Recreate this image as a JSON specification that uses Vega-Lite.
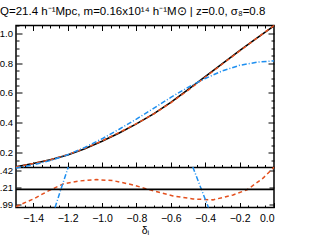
{
  "$schema": "https://vega.github.io/schema/vega-lite/v6.json",
  "autosize": {"type": "none"},
  "padding": {"left": 16, "top": 25.5, "right": 39, "bottom": 40.5},
  "width": 258,
  "height": 182,
  "background": "white",
  "title": {"text": "Q=21.4 h⁻¹Mpc, m=0.16x10¹⁴ h⁻¹M⊙ | z=0.0, σ₈=0.8", "anchor": "start", "frame": "group", "dx": -16, "offset": 5, "fontSize": 11.5, "font": "Liberation Sans", "fontWeight": "normal", "color": "black"},
  "config": {
    "view": {"stroke": "black", "strokeWidth": 1.5},
    "axis": {"labelFont": "Liberation Sans", "labelFontSize": 10.5, "labelColor": "black", "tickColor": "black", "domain": false, "grid": false, "titleFont": "Liberation Sans", "titleFontSize": 10.5, "titleFontWeight": "normal", "titleColor": "black"}
  },
  "datasets": {
    "black": [
      {"x": -1.5, "y": 0.105}, {"x": -1.4, "y": 0.127}, {"x": -1.3, "y": 0.152}, {"x": -1.2, "y": 0.185},
      {"x": -1.1, "y": 0.226}, {"x": -1.0, "y": 0.276}, {"x": -0.9, "y": 0.332}, {"x": -0.8, "y": 0.393},
      {"x": -0.7, "y": 0.46}, {"x": -0.6, "y": 0.537}, {"x": -0.5, "y": 0.622}, {"x": -0.4, "y": 0.71},
      {"x": -0.3, "y": 0.797}, {"x": -0.2, "y": 0.883}, {"x": -0.1, "y": 0.967}, {"x": 0.0, "y": 1.05}
    ],
    "red": [
      {"x": -1.5, "y": 0.104}, {"x": -1.4, "y": 0.127}, {"x": -1.3, "y": 0.153}, {"x": -1.2, "y": 0.187},
      {"x": -1.1, "y": 0.229}, {"x": -1.0, "y": 0.279}, {"x": -0.9, "y": 0.335}, {"x": -0.8, "y": 0.394},
      {"x": -0.7, "y": 0.459}, {"x": -0.6, "y": 0.534}, {"x": -0.5, "y": 0.618}, {"x": -0.4, "y": 0.706},
      {"x": -0.3, "y": 0.794}, {"x": -0.2, "y": 0.881}, {"x": -0.1, "y": 0.967}, {"x": 0.0, "y": 1.052}
    ],
    "blue": [
      {"x": -1.5, "y": 0.098}, {"x": -1.4, "y": 0.118}, {"x": -1.3, "y": 0.147}, {"x": -1.2, "y": 0.186},
      {"x": -1.1, "y": 0.235}, {"x": -1.0, "y": 0.293}, {"x": -0.9, "y": 0.357}, {"x": -0.8, "y": 0.425},
      {"x": -0.7, "y": 0.497}, {"x": -0.6, "y": 0.57}, {"x": -0.5, "y": 0.638}, {"x": -0.4, "y": 0.697},
      {"x": -0.3, "y": 0.748}, {"x": -0.2, "y": 0.785}, {"x": -0.1, "y": 0.806}, {"x": 0.0, "y": 0.815}
    ],
    "redr": [
      {"x": -1.5, "r": 0.963}, {"x": -1.39, "r": 1.07}, {"x": -1.32, "r": 1.154}, {"x": -1.225, "r": 1.252},
      {"x": -1.128, "r": 1.29}, {"x": -1.031, "r": 1.307}, {"x": -0.936, "r": 1.294}, {"x": -0.82, "r": 1.239},
      {"x": -0.721, "r": 1.176}, {"x": -0.587, "r": 1.099}, {"x": -0.471, "r": 1.061}, {"x": -0.355, "r": 1.049},
      {"x": -0.238, "r": 1.112}, {"x": -0.157, "r": 1.176}, {"x": -0.064, "r": 1.325}, {"x": 0.0, "r": 1.464}
    ],
    "bluer": [
      {"seg": "a", "x": -1.273, "r": 0.952}, {"seg": "a", "x": -1.235, "r": 1.21}, {"seg": "a", "x": -1.196, "r": 1.467},
      {"seg": "b", "x": -0.472, "r": 1.467}, {"seg": "b", "x": -0.427, "r": 1.21}, {"seg": "b", "x": -0.381, "r": 0.952}
    ],
    "ref": [{"r": 1.182}]
  },
  "resolve": {"scale": {"x": "independent", "y": "independent"}, "axis": {"x": "independent", "y": "independent"}},
  "layer": [
    {
      "data": {"name": "black"},
      "mark": {"type": "line", "color": "black", "strokeWidth": 1.6},
      "encoding": {
        "x": {"field": "x", "type": "quantitative", "scale": {"domain": [-1.5, 0], "nice": false, "zero": false},
              "axis": {"orient": "top", "values": [-1.4, -1.2, -1.0, -0.8, -0.6, -0.4, -0.2], "labels": false, "tickSize": -5, "title": null}},
        "y": {"field": "y", "type": "quantitative", "scale": {"domain": [0.104, 1.052], "range": [141.5, 0], "nice": false, "zero": false},
              "axis": {"orient": "left", "values": [0.2, 0.4, 0.6, 0.8, 1.0], "format": ".1f", "tickSize": -6, "labelPadding": 9.5, "labelFontSize": 9.5, "title": null}}
      }
    },
    {
      "data": {"name": "red"},
      "mark": {"type": "line", "color": "#e4501e", "strokeWidth": 1.5, "strokeDash": [4, 3]},
      "encoding": {
        "x": {"field": "x", "type": "quantitative", "scale": {"domain": [-1.5, 0], "nice": false, "zero": false},
              "axis": {"orient": "bottom", "offset": -40.5, "values": [-1.4, -1.2, -1.0, -0.8, -0.6, -0.4, -0.2], "labels": false, "tickSize": -5, "domain": true, "domainColor": "black", "domainWidth": 1.5, "title": null}},
        "y": {"field": "y", "type": "quantitative", "scale": {"domain": [0.104, 1.052], "range": [141.5, 0], "nice": false, "zero": false},
              "axis": {"orient": "right", "values": [0.2, 0.4, 0.6, 0.8, 1.0], "labels": false, "tickSize": -6, "title": null}}
      }
    },
    {
      "data": {"name": "blue"},
      "mark": {"type": "line", "color": "#1e8ff0", "strokeWidth": 1.5, "strokeDash": [5, 2, 1, 2]},
      "encoding": {
        "x": {"field": "x", "type": "quantitative", "scale": {"domain": [-1.5, 0], "nice": false, "zero": false},
              "axis": {"orient": "top", "values": [-1.45, -1.35, -1.3, -1.25, -1.15, -1.1, -1.05, -0.95, -0.9, -0.85, -0.75, -0.7, -0.65, -0.55, -0.5, -0.45, -0.35, -0.3, -0.25, -0.15, -0.1, -0.05], "labels": false, "tickSize": -2.5, "title": null}},
        "y": {"field": "y", "type": "quantitative", "scale": {"domain": [0.104, 1.052], "range": [141.5, 0], "nice": false, "zero": false},
              "axis": {"orient": "left", "values": [0.15, 0.25, 0.3, 0.35, 0.45, 0.5, 0.55, 0.65, 0.7, 0.75, 0.85, 0.9, 0.95, 1.05], "labels": false, "tickSize": -3, "title": null}}
      }
    },
    {
      "data": {"name": "black"},
      "mark": {"type": "line", "opacity": 0},
      "encoding": {
        "x": {"field": "x", "type": "quantitative", "scale": {"domain": [-1.5, 0], "nice": false, "zero": false},
              "axis": {"orient": "bottom", "offset": -40.5, "values": [-1.45, -1.35, -1.3, -1.25, -1.15, -1.1, -1.05, -0.95, -0.9, -0.85, -0.75, -0.7, -0.65, -0.55, -0.5, -0.45, -0.35, -0.3, -0.25, -0.15, -0.1, -0.05], "labels": false, "tickSize": -2.5, "title": null}},
        "y": {"field": "y", "type": "quantitative", "scale": {"domain": [0.104, 1.052], "range": [141.5, 0], "nice": false, "zero": false},
              "axis": {"orient": "right", "values": [0.15, 0.25, 0.3, 0.35, 0.45, 0.5, 0.55, 0.65, 0.7, 0.75, 0.85, 0.9, 0.95, 1.05], "labels": false, "tickSize": -3, "title": null}}
      }
    },
    {
      "data": {"name": "redr"},
      "mark": {"type": "line", "color": "#e4501e", "strokeWidth": 1.5, "strokeDash": [4, 3]},
      "encoding": {
        "x": {"field": "x", "type": "quantitative", "scale": {"domain": [-1.5, 0], "nice": false, "zero": false},
              "axis": {"orient": "bottom", "values": [-1.4, -1.2, -1.0, -0.8, -0.6, -0.4, -0.2, 0.0], "format": ".1f", "tickSize": -5, "labelPadding": 11, "title": "δᵢ", "titlePadding": 1}},
        "y": {"field": "r", "type": "quantitative", "scale": {"domain": [0.952, 1.467], "range": [182, 141.5], "nice": false, "zero": false},
              "axis": {"orient": "left", "values": [0.99, 1.205, 1.42], "labelExpr": "datum.value < 1 ? '0.99' : datum.value < 1.3 ? '1.21' : '1.42'", "tickSize": -5, "labelPadding": 8.5, "labelFontSize": 9.5, "title": null}}
      }
    },
    {
      "data": {"name": "bluer"},
      "mark": {"type": "line", "color": "#1e8ff0", "strokeWidth": 1.5, "strokeDash": [5, 2, 1, 2]},
      "encoding": {
        "detail": {"field": "seg", "type": "nominal"},
        "x": {"field": "x", "type": "quantitative", "scale": {"domain": [-1.5, 0], "nice": false, "zero": false},
              "axis": {"orient": "bottom", "values": [-1.45, -1.35, -1.3, -1.25, -1.15, -1.1, -1.05, -0.95, -0.9, -0.85, -0.75, -0.7, -0.65, -0.55, -0.5, -0.45, -0.35, -0.3, -0.25, -0.15, -0.1, -0.05], "labels": false, "tickSize": -2.5, "title": null}},
        "y": {"field": "r", "type": "quantitative", "scale": {"domain": [0.952, 1.467], "range": [182, 141.5], "nice": false, "zero": false},
              "axis": {"orient": "right", "values": [0.99, 1.205, 1.42], "labels": false, "tickSize": -5, "title": null}}
      }
    },
    {
      "data": {"name": "ref"},
      "mark": {"type": "rule", "color": "black", "strokeWidth": 1.6},
      "encoding": {
        "y": {"field": "r", "type": "quantitative", "scale": {"domain": [0.952, 1.467], "range": [182, 141.5], "nice": false, "zero": false}, "axis": null}
      }
    }
  ]
}
